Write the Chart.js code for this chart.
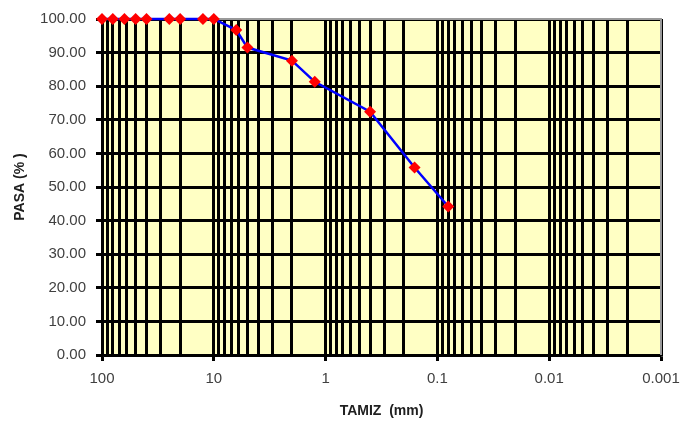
<!DOCTYPE html>
<html>
<head>
<meta charset="utf-8">
<script src="https://cdn.jsdelivr.net/npm/chart.js@4/dist/chart.umd.min.js"></script>
<style>
  html, body { margin: 0; padding: 0; background: #fff; }
  #wrap { width: 682px; height: 423px; }
</style>
</head>
<body>
<div id="wrap"><canvas id="grafico"></canvas></div>
<script>
// tamiz (mm) y pasa (%)
var tamices = [100, 80, 63, 50, 40, 25, 20, 12.5, 10, 6.3, 5, 2, 1.25, 0.4, 0.16, 0.08];
var pasa = [100, 100, 100, 100, 100, 100, 100, 100, 100, 96.7, 91.5, 87.6, 81.3, 72.4, 55.8, 44.2];
var decadas = [100, 10, 1, 0.1, 0.01, 0.001];
var etiquetasX = ["100", "10", "1", "0.1", "0.01", "0.001"];

function esDecada(v) {
  return decadas.some(function (d) { return Math.abs(v - d) < d * 1e-6; });
}

// ticks secundarios (2..9) para la cuadricula logaritmica
function ticksLog() {
  var t = [];
  for (var k = -3; k <= 2; k++) {
    var base = Math.pow(10, k);
    for (var m = 1; m <= 9; m++) {
      if (m > 1 && k === 2) break;
      t.push({ value: m === 1 ? decadas[2 - k] : m * base });
    }
  }
  return t;
}

var fondo = {
  id: "fondo",
  beforeDraw: function (chart) {
    var a = chart.chartArea, ctx = chart.ctx;
    ctx.save();
    ctx.fillStyle = "#FFFFC4";
    ctx.fillRect(a.left, a.top, a.right - a.left, a.bottom - a.top);
    ctx.restore();
  },
  beforeDatasetsDraw: function (chart) {
    var a = chart.chartArea, ctx = chart.ctx;
    ctx.save();
    ctx.strokeStyle = "#9a9a9a";
    ctx.lineWidth = 2;
    ctx.beginPath();
    ctx.moveTo(a.left, a.top);
    ctx.lineTo(a.right, a.top);
    ctx.lineTo(a.right, a.bottom);
    ctx.stroke();
    ctx.restore();
  }
};

var el = document.getElementById("grafico");
new Chart(el, {
  type: "scatter",
  data: {
    datasets: [
      {
        label: "Pasa",
        data: tamices.map(function (t, i) { return { x: t, y: pasa[i] }; }),
        showLine: true,
        borderColor: "#0000FF",
        borderWidth: 2.5,
        pointStyle: "rectRot",
        pointRadius: 6,
        pointHoverRadius: 6,
        pointBackgroundColor: "#FF0000",
        pointBorderColor: "#FF0000",
        pointBorderWidth: 0,
        clip: false,
      },
    ],
  },
  options: {
    responsive: true,
    maintainAspectRatio: false,
    animation: false,
    layout: { padding: { left: 0, right: 21, top: 17, bottom: 0 } },
    plugins: {
      legend: { display: false },
      tooltip: { enabled: false },
    },
    scales: {
      x: {
        type: "logarithmic",
        reverse: true,
        min: 0.001,
        max: 100,
        afterBuildTicks: function (scale) { scale.ticks = ticksLog(); },
        afterFit: function (scale) { scale.height = 423 - 355; },
        ticks: {
          autoSkip: false,
          maxRotation: 0,
          padding: 9,
          color: "#404040",
          font: { family: "'Liberation Sans', Arial, sans-serif", size: 15 },
          callback: function (value) {
            for (var i = 0; i < decadas.length; i++) {
              if (Math.abs(value - decadas[i]) < decadas[i] * 1e-6) return etiquetasX[i];
            }
            return "";
          },
        },
        grid: {
          color: "#000",
          lineWidth: 3,
          tickLength: 6,
          tickColor: function (c) { return c.tick && esDecada(c.tick.value) ? "#000" : "rgba(0,0,0,0)"; },
        },
        border: { color: "#000", width: 2.5 },
        title: {
          display: true,
          text: "TAMIZ  (mm)",
          color: "#202020",
          font: { family: "'Liberation Sans', Arial, sans-serif", size: 14, weight: "bold" },
          padding: { top: 0, bottom: 3 },
        },
      },
      y: {
        min: 0,
        max: 100,
        afterFit: function (scale) { scale.width = 102; },
        ticks: {
          stepSize: 10,
          padding: 10,
          color: "#404040",
          font: { family: "'Liberation Sans', Arial, sans-serif", size: 15 },
          callback: function (value) { return value.toFixed(2); },
        },
        grid: { color: "#000", lineWidth: 3, tickLength: 6 },
        border: { color: "#000", width: 2.5 },
        title: {
          display: true,
          text: "PASA (% )",
          color: "#202020",
          font: { family: "'Liberation Sans', Arial, sans-serif", size: 14, weight: "bold" },
          padding: { top: 12, bottom: 0 },
        },
      },
    },
  },
  plugins: [fondo],
});
</script>
</body>
</html>
